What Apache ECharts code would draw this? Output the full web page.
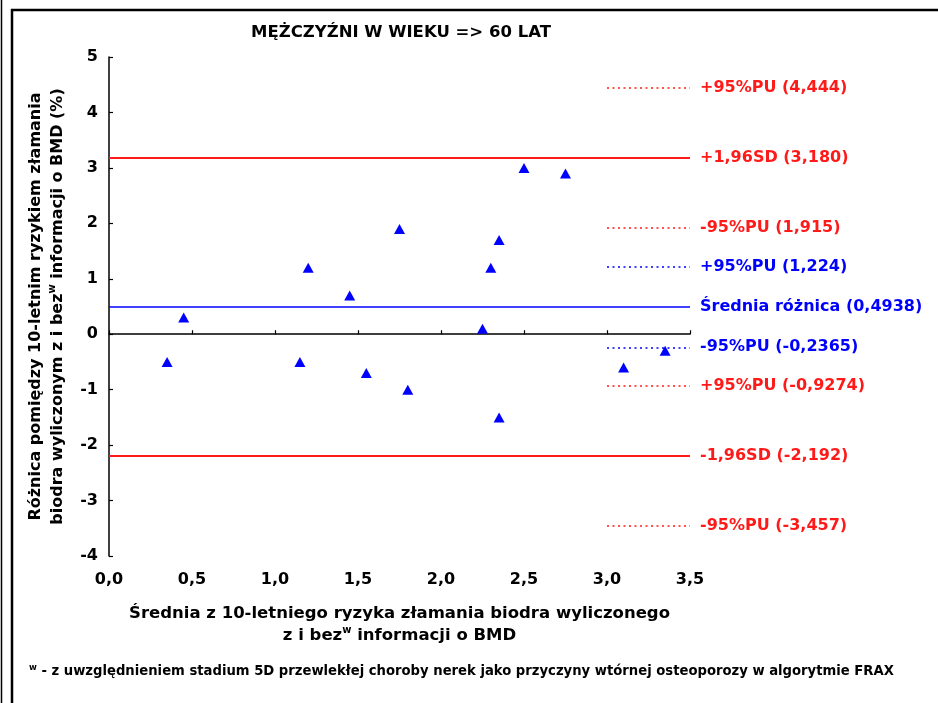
<!DOCTYPE html>
<html>
<head>
<meta charset="utf-8">
<script src="https://cdn.jsdelivr.net/npm/echarts@6/dist/echarts.min.js"></script>
<style>
  html, body { margin: 0; padding: 0; background: #ffffff; }
  #chart { width: 938px; height: 703px; }
</style>
</head>
<body>
<div id="chart"></div>
<script>
// ---- data ----
const pointX = [0.35, 0.45, 1.15, 1.20, 1.45, 1.55, 1.75, 1.80, 2.25, 2.30, 2.35, 2.35, 2.50, 2.75, 3.10, 3.35];
const pointY = [-0.5, 0.3, -0.5, 1.2, 0.7, -0.7, 1.9, -1.0, 0.1, 1.2, 1.7, -1.5, 3.0, 2.9, -0.6, -0.3];

const refValues = [4.444, 3.180, 1.915, 1.224, 0.4938, -0.2365, -0.9274, -2.192, -3.457];
const refLabels = ['+95%PU (4,444)', '+1,96SD (3,180)', '-95%PU (1,915)', '+95%PU (1,224)',
                   'Średnia różnica (0,4938)', '-95%PU (-0,2365)', '+95%PU (-0,9274)',
                   '-1,96SD (-2,192)', '-95%PU (-3,457)'];
const refColors = ['red', 'red', 'red', 'blue', 'blue', 'blue', 'red', 'red', 'red'];
const refKinds  = ['dotted', 'solid', 'dotted', 'dotted', 'solid', 'dotted', 'dotted', 'solid', 'dotted'];
const refStartX = [3.0, 0, 3.0, 3.0, 0, 3.0, 3.0, 0, 3.0];

const xTickMin = 0, xTickMax = 3.5, xTickStep = 0.5;
const yTickMin = -4, yTickMax = 5, yTickStep = 1;

const titleText = 'MĘŻCZYŹNI W WIEKU => 60 LAT';
const xTitle = 'Średnia z 10-letniego ryzyka złamania biodra wyliczonego\nz i bez{sup|w} informacji o BMD';
const yTitle = 'Różnica pomiędzy 10-letnim ryzykiem złamania\nbiodra wyliczonym z i bez{sup|w} informacji o BMD (%)';
const footText = '{sup|w} - z uwzględnieniem stadium 5D przewlekłej choroby nerek jako przyczyny wtórnej osteoporozy w algorytmie FRAX';

// ---- styles ----
const FONT = 'DejaVu Sans';
const colorMap = { red: '#ff1a1a', blue: '#0000ff' };

const markData = refValues.map((v, i) => {
  const c = colorMap[refColors[i]];
  const solid = refKinds[i] === 'solid';
  const ls = {
    color: c,
    width: solid ? (refColors[i] === 'red' ? 1.8 : 1.5) : 1.5,
    type: solid ? 'solid' : [2, 3.5],
    opacity: 1
  };
  return [
    {
      coord: [refStartX[i], v],
      lineStyle: ls,
      label: {
        show: true,
        position: 'end',
        distance: 10,
        formatter: refLabels[i],
        color: c,
        fontFamily: FONT,
        fontWeight: 'bold',
        fontSize: 16
      }
    },
    { coord: [xTickMax, v], lineStyle: ls }
  ];
});

const chart = echarts.init(document.getElementById('chart'), null, { renderer: 'canvas' });

const supRich = {
  sup: { fontSize: 10, fontWeight: 'bold', fontFamily: FONT, color: '#000', verticalAlign: 'top', lineHeight: 12 }
};

chart.setOption({
  backgroundColor: '#ffffff',
  animation: false,
  title: {
    text: titleText,
    left: 246,
    top: 19,
    textStyle: { fontFamily: FONT, fontWeight: 'bold', fontSize: 16.5, color: '#000' }
  },
  grid: { left: 109, top: 57, width: 581, height: 499, containLabel: false },
  xAxis: {
    type: 'value',
    min: xTickMin, max: xTickMax, interval: xTickStep,
    splitLine: { show: false },
    axisLine: { lineStyle: { color: '#000', width: 1.5 } },
    axisTick: { inside: true, length: 4, lineStyle: { color: '#000', width: 1.2 } },
    axisLabel: {
      margin: 16,
      color: '#000', fontFamily: FONT, fontWeight: 'bold', fontSize: 16,
      formatter: v => v.toFixed(1).replace('.', ',')
    },
    name: xTitle,
    nameLocation: 'middle',
    nameGap: 47,
    nameTextStyle: {
      color: '#000', fontFamily: FONT, fontWeight: 'bold', fontSize: 16.5, lineHeight: 22,
      rich: supRich
    }
  },
  yAxis: {
    type: 'value',
    min: yTickMin, max: yTickMax, interval: yTickStep,
    splitLine: { show: false },
    axisLine: { show: true, lineStyle: { color: '#000', width: 1.5 } },
    axisTick: { show: true, inside: true, length: 4, lineStyle: { color: '#000', width: 1.2 } },
    axisLabel: {
      margin: 11,
      color: '#000', fontFamily: FONT, fontWeight: 'bold', fontSize: 16
    },
    name: yTitle,
    nameLocation: 'middle',
    nameRotate: 90,
    nameGap: 39,
    nameTextStyle: {
      color: '#000', fontFamily: FONT, fontWeight: 'bold', fontSize: 16, lineHeight: 22,
      rich: supRich
    }
  },
  series: [{
    type: 'scatter',
    symbol: 'triangle',
    symbolSize: [11, 10],
    itemStyle: { color: '#0000ff', opacity: 1 },
    data: pointX.map((x, i) => [x, pointY[i]]),
    z: 5,
    markLine: {
      silent: true,
      symbol: ['none', 'none'],
      animation: false,
      data: markData
    }
  }],
  graphic: [
    { type: 'line', shape: { x1: 1.5, y1: 0, x2: 1.5, y2: 703 }, style: { stroke: '#000', lineWidth: 1.5 } },
    { type: 'line', shape: { x1: 12, y1: 9, x2: 12, y2: 703 }, style: { stroke: '#000', lineWidth: 2.5 } },
    { type: 'line', shape: { x1: 11, y1: 10, x2: 938, y2: 10 }, style: { stroke: '#000', lineWidth: 2.5 } },
    {
      type: 'text', left: 29, top: 663,
      style: {
        text: footText,
        fill: '#000',
        fontFamily: FONT, fontWeight: 'bold', fontSize: 13.2,
        lineHeight: 17,
        rich: { sup: { fontSize: 8.5, fontWeight: 'bold', fontFamily: FONT, fill: '#000', verticalAlign: 'top', lineHeight: 10 } }
      }
    }
  ]
});
</script>
</body>
</html>
